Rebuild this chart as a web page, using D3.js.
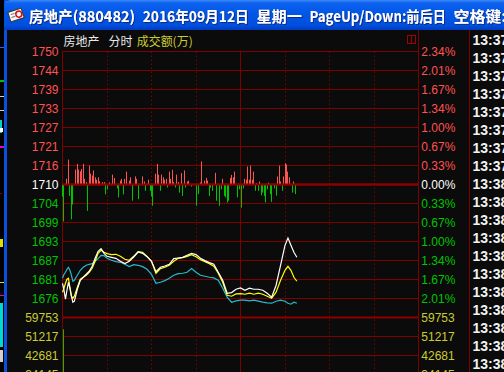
<!DOCTYPE html>
<html><head><meta charset="utf-8">
<script src="https://cdn.jsdelivr.net/npm/d3@7/dist/d3.min.js"></script>
<style>html,body{margin:0;padding:0;background:#000;overflow:hidden}svg{display:block}</style>
</head><body>
<svg id="c" width="504" height="372"></svg>
<script>
// ---------- data ----------
const titleSegments = ["房地产(880482)", "2016年09月12日", "星期一", "PageUp/Down:前后日", "空格键:"];
const headerName = "房地产";
const headerMode = "分时";
const headerVolume = "成交额(万)";
const preClose = 1710;
const priceLabels = ["1750","1744","1739","1733","1727","1721","1716","1710","1704","1699","1693","1687","1681","1676"];
const pctLabels = ["2.34%","2.01%","1.67%","1.34%","1.00%","0.67%","0.33%","0.00%","0.33%","0.67%","1.00%","1.34%","1.67%","2.01%"];
const volumeTicks = [59753, 51217, 42681, 34145];
const volumeLabels = ["59753","51217","42681","34145"];
const timeRows = ["13:37","13:37","13:37","13:37","13:37","13:37","13:37","13:37",
  "13:38","13:38","13:38","13:38","13:38","13:38","13:38","13:38","13:38","13:38","13:38"];

const minutes = [0,1,2,3,4,5,6,7,8,10,12,14,16,18,20,22,24,26,28,30,
  33,36,39,42,45,48,51,54,57,60,63,66,69,72,75,78,81,84,87,90,93,96,99,102,105,108,111,114,117,120,
  123,126,129,132,135,138,141,144,147,150,152,154,156,158];
const indexLine = [1680.3,1678.2,1675.5,1678.2,1680.6,1678.8,1676.4,1674.6,1674.9,
  1678.5,1681.2,1682.1,1683.0,1683.9,1685.4,1687.8,1689.9,1690.7,1689.3,1688.4,
  1688.1,1687.8,1686.9,1686.2,1686.9,1688.2,1689.7,1689.3,1688.3,1686.9,1683.8,1685.1,1685.5,1686.0,1687.7,1687.9,1688.1,1688.7,1689.3,1688.9,
  1687.8,1687.1,1686.5,1686.0,1683.6,1681.2,1677.3,1677.5,1678.5,1678.9,1678.2,1678.8,1678.5,1678.5,1678.2,1677.3,1676.1,1679.7,1685.7,1691.7,
  1693.9,1691.7,1689.6,1688.1];
const avgLine = [1677.6,1678.8,1680.3,1681.5,1681.8,1679.1,1676.4,1675.8,1676.4,
  1679.1,1681.5,1682.1,1682.7,1683.6,1684.8,1686.9,1689.3,1690.2,1689.6,1689.2,
  1688.9,1689.0,1688.4,1687.5,1687.2,1688.4,1689.8,1689.6,1688.4,1686.9,1683.3,1684.7,1685.1,1685.7,1686.9,1687.8,1688.0,1688.4,1688.9,1688.3,
  1687.4,1686.8,1686.2,1685.4,1683.3,1680.6,1676.7,1676.4,1677.1,1677.2,1677.0,1677.3,1677.0,1677.3,1677.0,1676.4,1675.8,1677.6,1681.2,1684.2,
  1685.4,1684.2,1682.1,1680.9];
const refLine = [1681.8,1683.0,1683.6,1684.5,1685.1,1684.2,1682.7,1680.9,1681.2,
  1682.7,1684.2,1685.1,1685.7,1686.0,1686.2,1686.9,1687.7,1688.7,1688.6,1687.8,
  1687.2,1686.8,1686.6,1686.0,1685.3,1685.9,1685.7,1685.3,1684.5,1683.0,1680.3,1680.6,1681.1,1681.8,1682.7,1683.2,1683.3,1683.6,1684.7,1683.6,
  1682.7,1682.4,1682.1,1681.9,1681.2,1678.8,1676.1,1674.6,1675.0,1675.2,1675.2,1675.0,1675.2,1674.9,1674.6,1674.4,1674.3,1674.9,1675.2,1674.9,
  1674.3,1674.0,1674.6,1674.3];

const breadthMinutes = [0,1,3,4,5,6,7,9,10,11,12,13,14,15,16,17,18,19,20,21,22,23,24,25,27,28,29,30,32,34,35,37,38,39,40,41,42,43,45,46,47,49,50,51,54,55,56,58,59,60,61,
  63,64,65,66,67,68,69,70,71,72,73,74,75,76,77,78,79,80,81,82,83,84,85,87,90,92,93,94,96,97,98,99,100,101,103,104,106,107,108,109,110,111,112,113,114,115,116,
  118,119,121,122,123,124,125,126,127,128,129,130,131,132,133,134,135,136,137,138,139,140,141,143,144,145,146,147,148,149,150,151,152,153,155,156,157];
const breadthValues = [-40,-123,19,83,-38,-116,-67,50,69,50,44,52,69,19,8,-88,63,36,30,47,24,16,24,11,8,8,-33,-17,7,33,22,-13,-43,13,19,-33,19,43,13,24,-54,27,19,-49,27,10,-21,16,-21,-40,-71,
  36,69,33,-21,33,24,16,19,-10,43,19,49,8,-10,33,8,-27,38,-38,47,-10,10,13,-7,-71,-32,7,77,13,22,13,-38,-10,-21,39,-54,-71,-16,19,-38,-43,-60,-54,22,32,24,43,
  -43,-16,-77,-13,19,16,60,16,63,16,43,-21,4,-21,10,-36,-27,-38,-60,-16,6,-32,-58,-13,-37,27,63,10,-21,27,71,67,43,24,-27,10,-32];

const volumeMinutes = [1];
const volumeValues = [54400];

// ---------- drawing ----------
const svg = d3.select('#c');
const W = 504, H = 372;
const GRID = '#800000', GRID2 = '#8e0000';
const RED = '#ff5252', GREEN = '#00c400', YEL = '#cccc33';
const LAT = "'Liberation Sans', Arial, sans-serif";
const CJK = "'Noto Sans CJK SC', sans-serif";

svg.append('rect').attr('width', W).attr('height', H).attr('fill', '#0b0b0b');

// background window strip on the far left
svg.append('rect').attr('x',0).attr('y',0).attr('width',4).attr('height',H).attr('fill','#000');
const strip = [[47,1,'#3a5cff',4],[80,2,'#00c000',4],[96,1,'#d0d0d0',4],[110,1,'#d0d0d0',4],[120,13,'#00d0d0',2],
  [128,4,'#ffffff',3],[146,2,'#e000e0',4],[193,1,'#800000',2],[239,8,'#e0e000',3],[282,1,'#e0e000',4],
  [295,1,'#e000e0',4],[303,44,'#00d8d8',3],[350,12,'#d0d0d0',3]];
strip.forEach(s => svg.append('rect').attr('x',0).attr('y',s[0]).attr('width',s[3]).attr('height',s[1]).attr('fill',s[2]));
svg.append('rect').attr('x',4).attr('y',0).attr('width',3).attr('height',H).attr('fill','#0a50dc');

// title bar
const defs = svg.append('defs');
const g = defs.append('linearGradient').attr('id','tb').attr('x1',0).attr('y1',0).attr('x2',0).attr('y2',1);
[[0,'#3b8af8'],[0.1,'#0f62f0'],[0.45,'#0056e6'],[0.85,'#004fdd'],[1,'#003cc0']].forEach(s =>
  g.append('stop').attr('offset', s[0]).attr('stop-color', s[1]));
const sh = defs.append('filter').attr('id','sh').attr('x','-5%').attr('y','-20%').attr('width','110%').attr('height','140%');
sh.append('feDropShadow').attr('dx',1).attr('dy',1).attr('stdDeviation',0).attr('flood-color','#0a2a80').attr('flood-opacity',1);
svg.append('path').attr('d','M4,30 V6 Q4,0 10,0 H504 V30 Z').attr('fill','url(#tb)');

// icon
const ic = svg.append('g').attr('transform','translate(16,15) rotate(-18)');
ic.append('rect').attr('x',-7).attr('y',-5).attr('width',14).attr('height',10).attr('fill','#f4f4f4').attr('stroke','#333').attr('stroke-width',1);
ic.append('line').attr('x1',-5).attr('x2',-1).attr('y1',-2).attr('y2',-2).attr('stroke','#777');
ic.append('line').attr('x1',-5).attr('x2',-1).attr('y1',1).attr('y2',1).attr('stroke','#777');
ic.append('circle').attr('cx',3).attr('cy',0).attr('r',3).attr('fill','none').attr('stroke','#d01010').attr('stroke-width',1.5);

// title text laid on a half-width character grid
const half = 7.58;
const units = s => Array.from(s).reduce((a, c) => a + (c.charCodeAt(0) > 255 ? 2 : 1), 0);
let col = 0;
titleSegments.forEach(seg => {
  const u = units(seg);
  svg.append('text').attr('x', 29 + col * half).attr('y', 22)
    .attr('textLength', u * half).attr('lengthAdjust', 'spacingAndGlyphs')
    .attr('filter', 'url(#sh)')
    .style('font-family', CJK).style('font-weight', 700).style('font-size', '15px')
    .attr('fill', '#ffffff').text(seg);
  col += u + 1;
});

// scales
const x = d3.scaleLinear().domain([0, 240]).range([62.5, 418.5]);
const yP = d3.scaleLinear().domain([preClose - 40, preClose + 40]).range([317.5, 51.5]);
const gridVals = d3.range(15).map(k => preClose + 40 - k * 40 / 7);
const yV = d3.scaleLinear().domain([0, volumeTicks[0]])
  .range([317.5 + 19 * volumeTicks[0] / (volumeTicks[0] - volumeTicks[1]), 317.5]);
const y0 = yP(preClose);
const yB = d3.scaleLinear().domain([-100, 100]).range([y0 + 30, y0 - 30]);
const px = v => Math.floor(x(v)) + 0.5;

// horizontal grid
gridVals.forEach((v, i) => {
  const thick = (i === 7 || i === 14);
  svg.append('line').attr('x1', 62.5).attr('x2', 418.5).attr('y1', yP(v)).attr('y2', yP(v))
    .attr('stroke', thick ? GRID2 : GRID).attr('stroke-width', thick ? 2 : 1);
});
volumeTicks.slice(1).forEach(v => svg.append('line').attr('x1', 62.5).attr('x2', 418.5)
  .attr('y1', yV(v)).attr('y2', yV(v)).attr('stroke', GRID));

// vertical grid
[30, 60, 90, 150, 180, 210].forEach(m => svg.append('line').attr('x1', px(m)).attr('x2', px(m))
  .attr('y1', 51.5).attr('y2', H).attr('stroke', GRID).attr('stroke-dasharray', '1.5,2.5'));
[0, 120].forEach(m => svg.append('line').attr('x1', px(m)).attr('x2', px(m))
  .attr('y1', 51.5).attr('y2', H).attr('stroke', GRID));
svg.append('line').attr('x1', 418.5).attr('x2', 418.5).attr('y1', 30).attr('y2', H).attr('stroke', GRID);
svg.append('line').attr('x1', 469.5).attr('x2', 469.5).attr('y1', 30).attr('y2', H).attr('stroke', GRID);

// breadth bars
svg.append('g').selectAll('rect').data(breadthMinutes.map((m, i) => [m, breadthValues[i]])).join('rect')
  .attr('x', d => Math.floor(x(d[0]))).attr('width', 1)
  .attr('y', d => d[1] > 0 ? yB(d[1]) : y0)
  .attr('height', d => Math.abs(yB(d[1]) - y0))
  .attr('fill', d => d[1] > 0 ? RED : GREEN);
svg.append('line').attr('x1', 62.5).attr('x2', 418.5).attr('y1', y0).attr('y2', y0)
  .attr('stroke', GRID2).attr('stroke-width', 2);

// volume bars
svg.append('g').selectAll('rect').data(volumeMinutes.map((m, i) => [m, volumeValues[i]])).join('rect')
  .attr('x', d => Math.floor(x(d[0]))).attr('width', 1)
  .attr('y', d => yV(d[1])).attr('height', d => yV(0) - yV(d[1])).attr('fill', GREEN);

// price lines
const line = d3.line().x((d, i) => x(minutes[i])).y(d => yP(d));
[[refLine, '#22bccc'], [avgLine, '#ffff00'], [indexLine, '#ffffff']].forEach(([s, c]) =>
  svg.append('path').attr('d', line(s)).attr('fill', 'none').attr('stroke', c).attr('stroke-width', 1.2));

// axis labels
const labColor = i => i < 7 ? RED : (i === 7 ? '#ffffff' : GREEN);
priceLabels.forEach((t, i) => {
  svg.append('text').attr('x', 58.5).attr('y', yP(gridVals[i]) + 4.3).attr('text-anchor', 'end')
    .style('font-family', LAT).style('font-size', '12px').attr('fill', labColor(i)).text(t);
});
pctLabels.forEach((t, i) => {
  svg.append('text').attr('x', 421.3).attr('y', yP(gridVals[i]) + 4.3)
    .style('font-family', LAT).style('font-size', '12px').attr('fill', labColor(i)).text(t);
});
volumeLabels.forEach((t, i) => {
  const yy = yV(volumeTicks[i]) + 4.3;
  svg.append('text').attr('x', 58.5).attr('y', yy).attr('text-anchor', 'end')
    .style('font-family', LAT).style('font-size', '12px').attr('fill', YEL).text(t);
  svg.append('text').attr('x', 421.3).attr('y', yy)
    .style('font-family', LAT).style('font-size', '12px').attr('fill', YEL).text(t);
});

// header
svg.append('text').attr('x', 63.5).attr('y', 46.3).style('font-family', CJK).style('font-size', '12px').attr('fill', '#e8e8e8').text(headerName);
svg.append('text').attr('x', 108.5).attr('y', 46.3).style('font-family', CJK).style('font-size', '12px').attr('fill', '#e8e8e8').text(headerMode);
svg.append('text').attr('x', 136.7).attr('y', 46.3).attr('textLength', 56).attr('lengthAdjust', 'spacingAndGlyphs')
  .style('font-family', CJK).style('font-size', '12px').attr('fill', YEL).text(headerVolume);
svg.append('rect').attr('x', 407.5).attr('y', 35.5).attr('width', 8).attr('height', 8).attr('fill', 'none').attr('stroke', '#a00000');
svg.append('line').attr('x1', 411.5).attr('x2', 411.5).attr('y1', 35.5).attr('y2', 43.5).attr('stroke', '#a00000');

// time column
timeRows.forEach((t, i) => {
  svg.append('text').attr('x', 472.5).attr('y', 40.3 + 18 * i + 5)
    .style('font-family', LAT).style('font-weight', 700).style('font-size', '14px').attr('fill', '#f2f2f2').text(t);
});
</script>
</body></html>
